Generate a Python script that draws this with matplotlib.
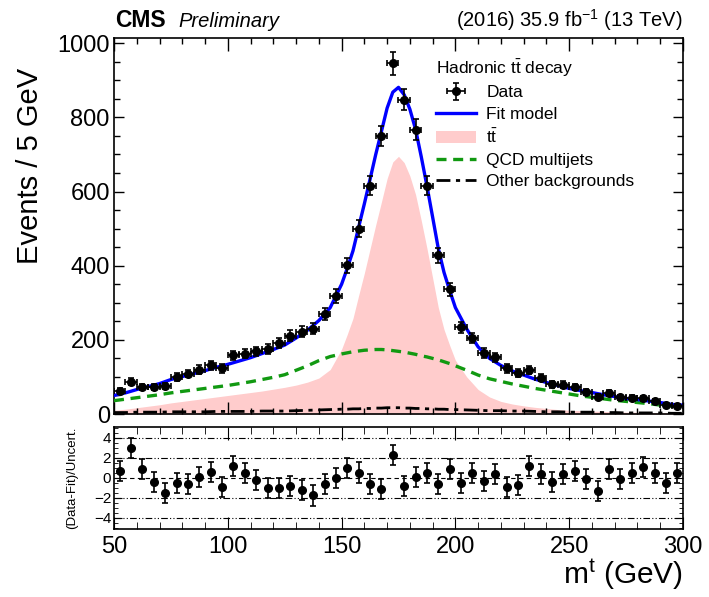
import numpy as np
import matplotlib
matplotlib.use("Agg")
import matplotlib.pyplot as plt
from matplotlib.ticker import MultipleLocator

plt.rcParams['font.family'] = ['Liberation Sans', 'DejaVu Sans']
plt.rcParams['mathtext.fontset'] = 'custom'
plt.rcParams['mathtext.rm'] = 'Liberation Sans'
plt.rcParams['mathtext.it'] = 'Liberation Sans:italic'
plt.rcParams['mathtext.bf'] = 'Liberation Sans:bold'

# data: 5 GeV bins from 50 to 300 GeV
bin_centers = [52.5 + 5 * i for i in range(50)]
data_counts = [62, 87, 73, 73, 76, 100, 109, 120, 131, 123,
               158, 163, 169, 176, 191, 211, 222, 230, 270, 318,
               401, 500, 616, 749, 946, 848, 767, 616, 428, 336,
               234, 205, 164, 153, 123, 110, 118, 98, 80, 79,
               73, 60, 47, 57, 45, 44, 43, 34, 25, 22]
pulls = [0.70, 2.96, 0.92, -0.37, -1.50, -0.53, -0.63, 0.05, 0.60, -0.92,
         1.18, 0.50, -0.24, -1.02, -1.05, -0.79, -1.25, -1.76, -0.60, -0.05,
         1.02, 0.53, -0.63, -1.12, 2.30, -0.79, 0.05, 0.44, -0.60, 0.92,
         -0.47, 0.50, -0.31, 0.37, -0.92, -0.76, 1.18, 0.34, -0.37, 0.37,
         0.70, -0.11, -1.28, 0.92, -0.11, 0.50, 1.08, 0.50, -0.47, 0.50]

# fit components
curve_m = [50, 55, 60, 65, 70, 75, 80, 85, 90, 95,
           100, 105, 110, 115, 120, 125, 130, 135, 140, 145,
           150, 152.5, 155, 157.5, 160, 162.5, 165, 167.5, 170, 172.5,
           175, 177.5, 180, 182.5, 185, 187.5, 190, 192.5, 195, 197.5, 200,
           205, 210, 215, 220, 225, 230, 235, 240, 245,
           250, 255, 260, 265, 270, 275, 280, 285, 290, 295, 300]
ttbar = [10, 13, 17, 21, 25, 30, 34, 38, 42, 46,
         50, 54, 58, 62, 67, 72, 78, 86, 97, 120,
         175, 215, 258, 320, 380, 445, 510, 572, 635, 680,
         695, 678, 642, 592, 522, 447, 367, 287, 228, 185, 145,
         100, 66, 46, 34, 27, 22, 18, 15, 12,
         10, 9, 8, 7, 6, 5, 5, 4, 4, 3, 3]
qcd = [36, 40, 44, 48, 52, 57, 61, 65, 69, 73,
       77, 82, 87, 93, 99, 106, 118, 130, 144, 155,
       162, 165, 168, 170, 172, 173, 174, 174, 173, 171,
       169, 167, 164, 161, 157, 154, 150, 146, 141, 136, 130,
       118, 105, 95, 88, 81, 75, 69, 64, 59,
       54, 49, 45, 41, 37, 34, 31, 28, 24, 21, 19]
other = [4, 4, 5, 5, 5, 6, 6, 6, 6, 7,
         7, 7, 7, 8, 8, 8, 9, 10, 11, 12,
         13, 13, 14, 14, 15, 15, 16, 16, 17, 17,
         17, 16, 16, 15, 15, 14, 14, 13, 13, 12, 12,
         11, 10, 9, 9, 8, 8, 7, 6, 6,
         5, 5, 5, 4, 4, 3, 3, 3, 3, 2, 2]

m = np.array(curve_m)
fit = np.array(ttbar) + np.array(qcd) + np.array(other)
counts = np.array(data_counts)

fig = plt.figure(figsize=(7.09, 5.97), dpi=100)
ax = fig.add_axes([0.1608, 0.3065, 0.8025, 0.6304])
axr = fig.add_axes([0.1608, 0.1139, 0.8025, 0.1714])

ax.fill_between(m, 0, ttbar, color='#ffcccc', lw=0, zorder=1, label=r'$\mathrm{t\bar{t}}$')
ax.plot(m, other, color='black', lw=2.0, ls=(0, (5, 2, 1.5, 2)), zorder=2,
        label='Other backgrounds')
ax.plot(m, qcd, color='#119911', lw=2.4, ls=(0, (3, 2)), zorder=3, label='QCD multijets')
ax.plot(m, fit, color='blue', lw=2.4, zorder=4, label='Fit model')
ax.errorbar(bin_centers, counts, yerr=np.sqrt(counts), xerr=2.5, fmt='o', color='black',
            ms=5.5, elinewidth=1.2, capsize=2.2, capthick=1.2, zorder=5, label='Data')

ax.set_xlim(50, 300)
ax.set_ylim(0, 1015)
ax.xaxis.set_major_locator(MultipleLocator(50))
ax.xaxis.set_minor_locator(MultipleLocator(10))
ax.yaxis.set_major_locator(MultipleLocator(200))
ax.yaxis.set_minor_locator(MultipleLocator(50))
ax.tick_params(which='both', direction='in', top=True, right=True, labelbottom=False)
ax.tick_params(axis='y', which='major', length=7, width=1, labelsize=17, pad=3)
ax.tick_params(axis='y', which='minor', length=4, width=1)
ax.tick_params(axis='x', which='major', length=9, width=1)
ax.tick_params(axis='x', which='minor', length=4.5, width=1)
for s in ax.spines.values():
    s.set_linewidth(1.2)

handles, labels = ax.get_legend_handles_labels()
order = [labels.index(k) for k in ['Data', 'Fit model', r'$\mathrm{t\bar{t}}$',
                                   'QCD multijets', 'Other backgrounds']]
leg = ax.legend([handles[i] for i in order], [labels[i] for i in order],
                title=r'Hadronic $\mathrm{t\bar{t}}$ decay', title_fontsize=12.5,
                fontsize=12.5, frameon=False, loc='upper left',
                bbox_to_anchor=(0.554, 0.965), handlelength=2.3, handletextpad=0.58,
                labelspacing=0.36, borderaxespad=0, alignment='left')

# pull panel
axr.errorbar(bin_centers, pulls, yerr=1.0, fmt='o', color='black', ms=5.5,
             elinewidth=1.2, capsize=2.2, capthick=1.2, zorder=5)
for lvl in [-4, -2, 2, 4]:
    axr.axhline(lvl, color='black', lw=0.8, ls=(0, (6, 2, 1, 2, 1, 2)), zorder=1)
axr.axhline(0, color='black', lw=0.8, ls=(0, (4, 3)), zorder=1)
axr.set_xlim(50, 300)
axr.set_ylim(-5.1, 5.1)
axr.set_yticks([-4, -2, 0, 2, 4])
axr.set_yticklabels(['\u22124', '\u22122', '0', '2', '4'])
axr.xaxis.set_major_locator(MultipleLocator(50))
axr.xaxis.set_minor_locator(MultipleLocator(10))
axr.yaxis.set_minor_locator(MultipleLocator(0.5))
axr.tick_params(which='both', direction='in', top=True, right=True)
axr.tick_params(axis='y', which='major', length=6, labelsize=11, pad=2)
axr.tick_params(axis='y', which='minor', length=3)
axr.tick_params(axis='x', which='major', length=9, labelsize=17, pad=5)
axr.tick_params(axis='x', which='minor', length=5)
for s in axr.spines.values():
    s.set_linewidth(1.2)

fig.text(30 / 709, 1 - 166 / 597, 'Events / 5 GeV', rotation=90, fontsize=21,
         ha='center', va='center')
fig.text(72 / 709, 1 - 478 / 597, '(Data-Fit)/Uncert.', rotation=90, fontsize=9.5,
         ha='center', va='center')
fig.text(683 / 709, 1 - 592 / 597, r'm$^{\mathrm{t}}$ (GeV)', fontsize=21.5,
         ha='right', va='bottom')
fig.text(115 / 709, 1 - 27 / 597, 'CMS', fontsize=16.5, fontweight='bold',
         ha='left', va='baseline')
fig.text(178 / 709, 1 - 27 / 597, 'Preliminary', fontsize=14.5, style='italic',
         ha='left', va='baseline')
fig.text(683 / 709, 1 - 27 / 597, r'(2016) 35.9 fb$^{-1}$ (13 TeV)', fontsize=14.5,
         ha='right', va='baseline')

fig.savefig('out.png', dpi=100)
